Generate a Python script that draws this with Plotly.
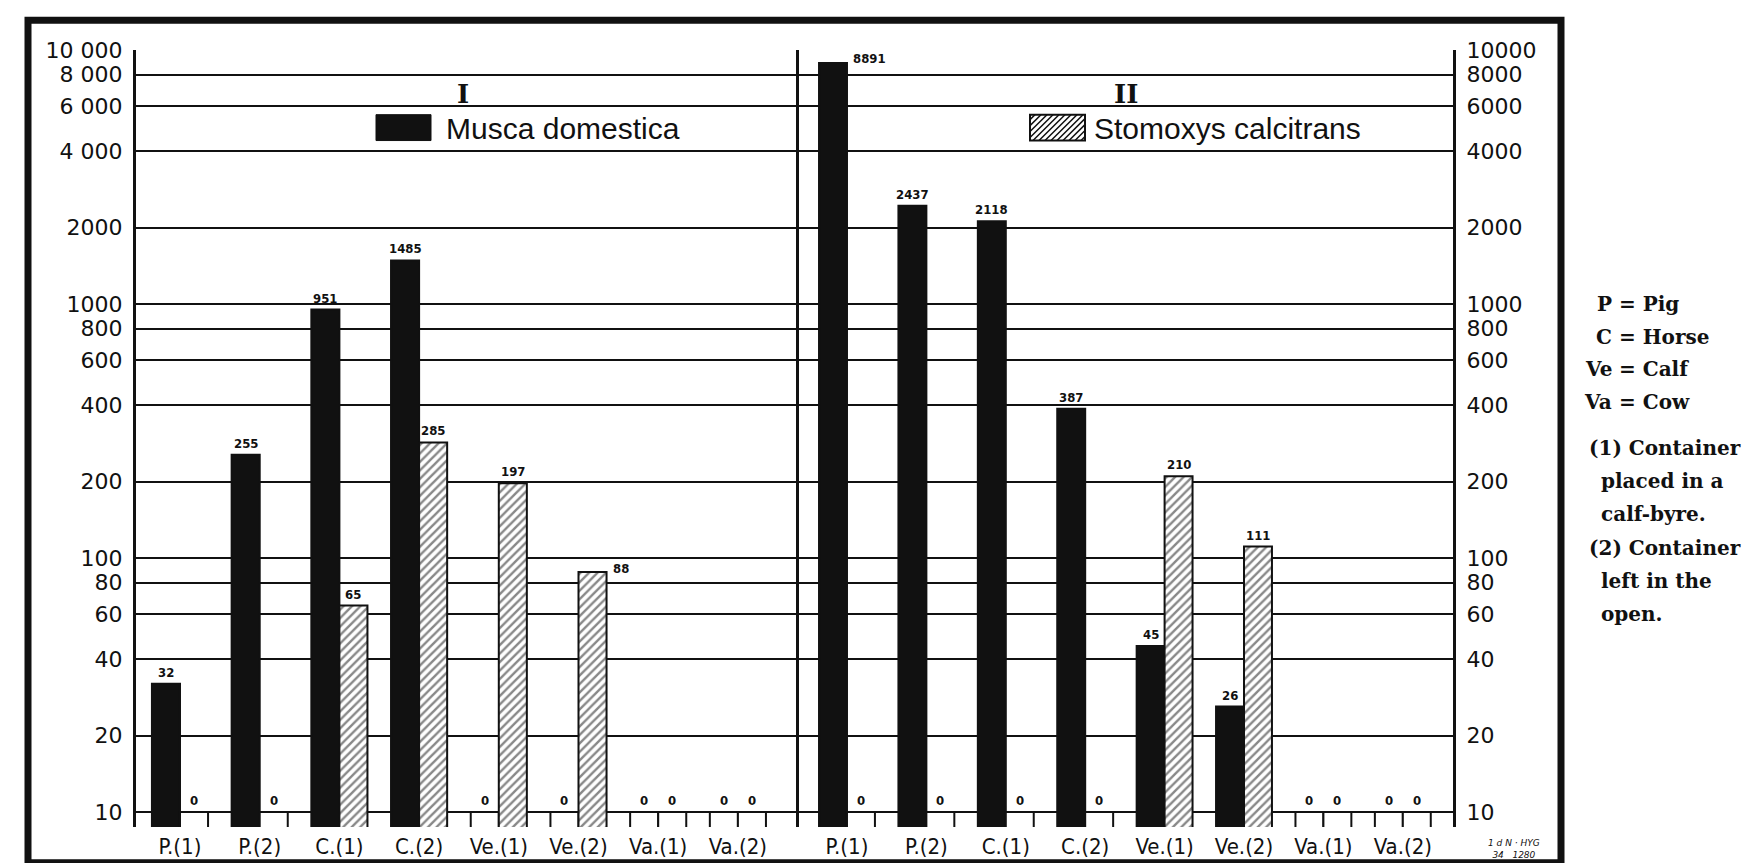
import numpy as np
import plotly.graph_objects as go

# --- data ---
categories = ["P.(1)", "P.(2)", "C.(1)", "C.(2)", "Ve.(1)", "Ve.(2)", "Va.(1)", "Va.(2)"]

musca_I = [32, 255, 951, 1485, 0, 0, 0, 0]
stomoxys_I = [0, 0, 65, 285, 197, 88, 0, 0]
musca_II = [8891, 2437, 2118, 387, 45, 26, 0, 0]
stomoxys_II = [0, 0, 0, 0, 210, 111, 0, 0]

tick_vals = [10, 20, 40, 60, 80, 100, 200, 400, 600, 800, 1000, 2000, 4000, 6000, 8000, 10000]
tick_text_left = ["10", "20", "40", "60", "80", "100", "200", "400", "600", "800",
                  "1000", "2000", "4 000", "6 000", "8 000", "10 000"]
tick_text_right = [str(v) for v in tick_vals]

key_lines = [("P", "Pig"), ("C", "Horse"), ("Ve", "Calf"), ("Va", "Cow")]
note_lines = ["(1) Container", "placed in a", "calf-byre.", "(2) Container", "left in the", "open."]

FLOOR = 10  # zero counts sit on the bottom line

# --- geometry (pixels) ---
W, H = 1755, 863
L, R, T, B = 128, 1445, 42, 823
DIV = 788
BLACK = "#111111"


def px(x):
    return (x - L) / (R - L)


def py(y):
    return (B - y) / (B - T)


def bar_trace(vals, xa, ya, hatched):
    shown = [v if v > 0 else FLOOR for v in vals]
    if hatched:
        marker = dict(color="white", line=dict(color=BLACK, width=2),
                      pattern=dict(shape=["/" if v > 0 else "" for v in vals],
                                   fgcolor=BLACK, bgcolor="white", size=6, solidity=0.4))
    else:
        marker = dict(color=[BLACK if v > 0 else "white" for v in vals],
                      line=dict(color=BLACK, width=2))
    return go.Bar(x=categories, y=shown, xaxis=xa, yaxis=ya, marker=marker,
                  customdata=vals, hovertemplate="%{x}: %{customdata}<extra></extra>")


fig = go.Figure()
fig.add_trace(bar_trace(musca_I, "x", "y", False))
fig.add_trace(bar_trace(stomoxys_I, "x", "y", True))
fig.add_trace(bar_trace(musca_II, "x2", "y2", False))
fig.add_trace(bar_trace(stomoxys_II, "x2", "y2", True))

OFF = 0.176
LABEL_FONT = dict(family="DejaVu Sans Condensed, DejaVu Sans", size=13, color=BLACK)
annotations = []
right_side = {("II", 0, 0), ("I", 1, 5)}
for panel, xa, ya, series in [("I", "x", "y", [musca_I, stomoxys_I]),
                              ("II", "x2", "y2", [musca_II, stomoxys_II])]:
    for j, vals in enumerate(series):
        off = -OFF if j == 0 else OFF
        for k, v in enumerate(vals):
            ylog = np.log10(max(v, FLOOR))
            if (panel, j, k) in right_side:
                annotations.append(dict(x=k + off + OFF, y=ylog, xref=xa, yref=ya, text=f"<b>{v}</b>",
                                        showarrow=False, xanchor="left", yanchor="middle",
                                        xshift=4, yshift=4, font=LABEL_FONT))
            else:
                annotations.append(dict(x=k + off, y=ylog, xref=xa, yref=ya, text=f"<b>{v}</b>",
                                        showarrow=False, xanchor="center", yanchor="bottom",
                                        yshift=2, font=LABEL_FONT))


def note(x, y, text, font, xanchor="left"):
    annotations.append(dict(x=px(x), y=py(y), xref="paper", yref="paper", text=text,
                            showarrow=False, xanchor=xanchor, yanchor="middle", font=font))


# panel titles and species legends
SERIF = "DejaVu Serif"
note(455, 86, "<b>I</b>", dict(family=SERIF, size=26, color=BLACK), "center")
note(1118, 86, "<b>II</b>", dict(family=SERIF, size=26, color=BLACK), "center")
SPECIES_FONT = dict(family="Liberation Sans, Arial", size=30, color=BLACK)
note(436, 121, "Musca domestica", SPECIES_FONT)
note(1084, 121, "Stomoxys calcitrans", SPECIES_FONT)

# key on the right
KEY_FONT = dict(family=SERIF, size=20, color=BLACK)
for i, (ab, name) in enumerate(key_lines):
    y = 297 + i * 33
    note(1606, y, f"<b>{ab}</b>", KEY_FONT, "right")
    note(1609, y, f"<b>= {name}</b>", KEY_FONT)
for i, line in enumerate(note_lines):
    y = 442 + i * 33.4
    x = 1579 if line.startswith("(") else 1591
    note(x, y, f"<b>{line}</b>", KEY_FONT)

note(1506, 845, "<i>1 d N · HYG<br>34   1280</i>", dict(family="DejaVu Sans", size=9, color=BLACK), "center")

# shapes: outer frame and legend swatches
shapes = [
    dict(type="rect", xref="paper", yref="paper", x0=px(20), x1=px(1553), y0=py(859), y1=py(12),
         line=dict(color=BLACK, width=7)),
    dict(type="rect", xref="paper", yref="paper", x0=px(368), x1=px(423), y0=py(133), y1=py(107),
         fillcolor=BLACK, line=dict(color=BLACK, width=1)),
    dict(type="rect", xref="paper", yref="paper", x0=px(1022), x1=px(1077), y0=py(133), y1=py(107),
         fillcolor="white", line=dict(color=BLACK, width=2)),
]
hx0, hx1, hy0, hy1 = 1022, 1077, 107, 133
path = ""
c = hx0 + hy0 + 5
while c < hx1 + hy1:
    a = max(hx0, c - hy1)
    b = min(hx1, c - hy0)
    if b > a:
        path += f"M{px(a)},{py(c - a)} L{px(b)},{py(c - b)} "
    c += 6
shapes.append(dict(type="path", xref="paper", yref="paper", path=path, line=dict(color=BLACK, width=1.5)))

TICK_FONT = dict(family="DejaVu Sans", size=22, color=BLACK)
CAT_FONT = dict(family="DejaVu Sans Condensed, Liberation Sans Narrow, DejaVu Sans", size=22, color=BLACK)
yrange = [np.log10(8.73), 4]

yaxis_common = dict(type="log", range=yrange, tickvals=tick_vals, showgrid=True, gridcolor=BLACK,
                    gridwidth=2, showline=True, linecolor=BLACK, linewidth=3, ticks="",
                    tickfont=TICK_FONT, zeroline=False, ticklabelstandoff=6, fixedrange=True)
xaxis_common = dict(type="category", showline=False, showgrid=False, zeroline=False, ticks="",
                    tickfont=CAT_FONT, ticklabelstandoff=4, fixedrange=True)

fig.update_layout(
    width=W, height=H,
    margin=dict(l=L, r=W - R, t=T, b=H - B),
    paper_bgcolor="white", plot_bgcolor="white",
    barmode="group", bargap=0.296, bargroupgap=0,
    showlegend=False,
    xaxis=dict(domain=[0, px(DIV)], range=[-0.552, 7.729], anchor="y", **xaxis_common),
    xaxis2=dict(domain=[px(DIV), 1], range=[-0.642, 7.632], anchor="y2", **xaxis_common),
    yaxis=dict(anchor="x", ticktext=tick_text_left, mirror=True, **yaxis_common),
    yaxis2=dict(anchor="x2", side="right", ticktext=tick_text_right, **yaxis_common),
    annotations=annotations,
    shapes=shapes,
)

fig.write_html("out.html")
